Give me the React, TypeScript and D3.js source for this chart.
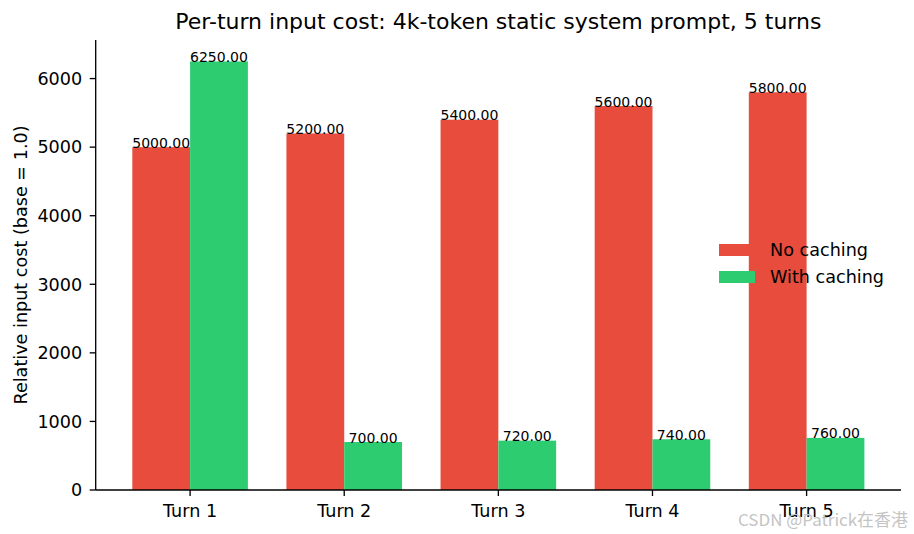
import React from "react";
import * as d3 from "d3";

const categories = ["Turn 1", "Turn 2", "Turn 3", "Turn 4", "Turn 5"];
const noCaching = [5000, 5200, 5400, 5600, 5800];
const withCaching = [6250, 700, 720, 740, 760];
const yTicks = [0, 1000, 2000, 3000, 4000, 5000, 6000];
const seriesNames = ["No caching", "With caching"];
const colors = ["#e74c3c", "#2ecc71"];

const W = 914;
const H = 534;
const left = 95.7;
const right = 901;
const top = 40;
const bottom = 490;
const barW = 0.375;
const font = "DejaVu Sans, sans-serif";
const fs = 17.6;

export default function App() {
  const n = categories.length;
  const span = n - 1 + 2 * barW;
  const pad = 0.05 * span;
  const x = d3
    .scaleLinear()
    .domain([-barW - pad, n - 1 + barW + pad])
    .range([left, right]);
  const yMax = d3.max([...noCaching, ...withCaching]) as number;
  const y = d3.scaleLinear().domain([0, yMax * 1.05]).range([bottom, top]);
  const series = [noCaching, withCaching];

  return (
    <div style={{ position: "absolute", left: 0, top: 0 }}>
      <svg width={W} height={H} style={{ display: "block", background: "#fff" }}>
        <text x={(left + right) / 2} y={29} textAnchor="middle" fontFamily={font} fontSize={22} fill="#000">
          Per-turn input cost: 4k-token static system prompt, 5 turns
        </text>
        {series.map((vals, si) =>
          vals.map((v, i) => {
            const x0 = si === 0 ? x(i - barW) : x(i);
            const x1 = si === 0 ? x(i) : x(i + barW);
            return (
              <rect key={`b${si}-${i}`} x={x0} y={y(v)} width={x1 - x0} height={y(0) - y(v)} fill={colors[si]} />
            );
          })
        )}
        {series.map((vals, si) =>
          vals.map((v, i) => {
            const cx = si === 0 ? x(i - barW / 2) : x(i + barW / 2);
            return (
              <text key={`l${si}-${i}`} x={cx} y={y(v) + 0.5} textAnchor="middle" fontFamily={font} fontSize={14} fill="#000">
                {v.toFixed(2)}
              </text>
            );
          })
        )}
        {/* axes */}
        <line x1={left} x2={left} y1={top} y2={bottom} stroke="#000" strokeWidth={1.33} />
        <line x1={left} x2={right} y1={bottom} y2={bottom} stroke="#000" strokeWidth={1.33} />
        {yTicks.map((t) => (
          <g key={`yt${t}`}>
            <line x1={left - 6} x2={left} y1={y(t)} y2={y(t)} stroke="#000" strokeWidth={1.33} />
            <text x={left - 13.5} y={y(t)} dy="0.36em" textAnchor="end" fontFamily={font} fontSize={fs} fill="#000">
              {t}
            </text>
          </g>
        ))}
        {categories.map((c, i) => (
          <g key={`xt${i}`}>
            <line x1={x(i)} x2={x(i)} y1={bottom} y2={bottom + 6} stroke="#000" strokeWidth={1.33} />
            <text x={x(i)} y={517} textAnchor="middle" fontFamily={font} fontSize={fs} fill="#000">
              {c}
            </text>
          </g>
        ))}
        <text
          transform={`translate(27,${(top + bottom) / 2}) rotate(-90)`}
          textAnchor="middle"
          fontFamily={font}
          fontSize={fs}
          fill="#000"
        >
          Relative input cost (base = 1.0)
        </text>
        {/* legend */}
        {seriesNames.map((s, si) => (
          <g key={`lg${si}`}>
            <rect x={719} y={244 + si * 27} width={36} height={12} fill={colors[si]} />
            <text x={770} y={256 + si * 27} fontFamily={font} fontSize={fs} fill="#000">
              {s}
            </text>
          </g>
        ))}
        <text x={738} y={526} fontFamily="Noto Sans CJK SC, Noto Sans, sans-serif" fontSize={16.5} fill="#c4c4c4" textLength={170} lengthAdjust="spacingAndGlyphs">
          CSDN @Patrick在香港
        </text>
      </svg>
    </div>
  );
}
